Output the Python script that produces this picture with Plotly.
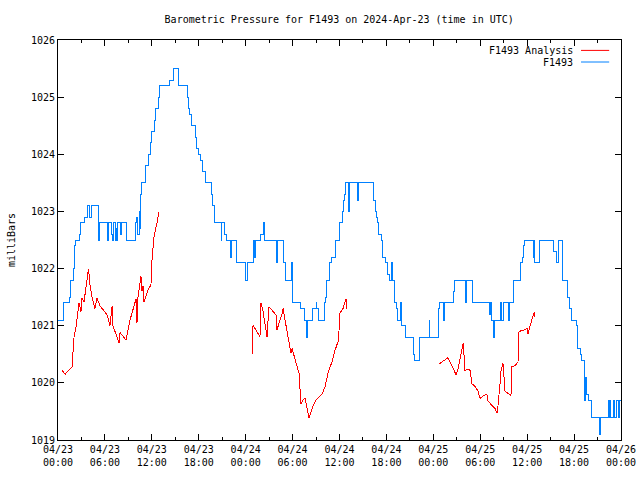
import plotly.graph_objects as go
import pandas as pd

BASE = pd.Timestamp("2024-04-23 00:00")

# Observed station pressure (step series): hours since 2024-04-23 00:00 UTC, mb
obs_hours = [0.00, 0.64, 1.41, 1.66, 1.92, 2.17, 2.30, 2.81, 2.94, 3.33, 3.71, 4.09, 4.22,
             5.12, 5.24, 5.37, 6.39, 6.52, 6.78, 7.03, 7.16, 7.29, 7.42, 7.55, 7.67, 7.93,
             8.06, 8.82, 9.85, 10.10, 10.23, 10.36, 10.49, 10.61, 10.74, 11.25, 11.51,
             11.77, 12.02, 12.28, 12.53, 12.79, 13.04, 14.32, 14.71, 15.35, 15.47, 16.50,
             16.63, 16.88, 17.01, 17.52, 17.65, 18.03, 18.16, 18.54, 18.80, 19.57, 19.70,
             19.95, 20.85, 20.97, 21.23, 21.49, 22.12, 22.25, 22.89, 23.92, 24.17, 24.94,
             25.07, 25.20, 25.96, 26.22, 26.47, 27.88, 28.01, 28.78, 28.90, 29.03, 29.80,
             29.93, 30.95, 31.46, 31.72, 31.97, 32.61, 33.00, 33.12, 33.25, 34.02, 34.27,
             34.40, 34.66, 35.04, 35.43, 36.06, 36.32, 36.45, 36.70, 36.83, 37.09, 37.22,
             38.24, 38.49, 40.41, 40.54, 40.67, 40.80, 41.05, 41.31, 41.56, 41.82, 42.08,
             42.33, 42.59, 42.84, 42.97, 43.35, 43.48, 43.74, 43.87, 44.38, 45.40, 45.53,
             46.17, 47.45, 47.57, 48.60, 48.85, 49.24, 49.37, 50.52, 50.77, 52.05, 52.18,
             52.95, 55.12, 55.25, 55.50, 55.63, 55.76, 56.53, 56.78, 56.91, 57.55, 57.68,
             58.19, 59.09, 59.34, 59.47, 59.72, 60.75, 60.88, 61.00, 61.52, 63.43, 63.69,
             63.95, 64.07, 64.46, 64.58, 65.22, 65.35, 65.61, 66.37, 66.50, 66.76, 67.01,
             67.27, 67.40, 67.53, 67.78, 68.29, 69.19, 69.32, 70.34, 70.47, 70.60, 70.72,
             70.98, 71.11, 71.36, 71.62, 71.75, 72.00]
obs_mbar = [1021.1, 1021.4, 1021.5, 1021.8, 1022.0, 1022.4, 1022.5, 1022.6, 1022.8, 1022.9, 1023.1, 1022.9, 1023.1,
            1022.6, 1022.5, 1022.8, 1022.5, 1022.8, 1022.6, 1022.5, 1022.8, 1022.5, 1022.7, 1022.5, 1022.8, 1022.6,
            1022.8, 1022.5, 1022.8, 1022.9, 1022.6, 1023.0, 1022.7, 1023.3, 1023.5, 1023.8, 1024.0,
            1024.2, 1024.4, 1024.6, 1024.8, 1025.0, 1025.2, 1025.3, 1025.5, 1025.3, 1025.2, 1025.0,
            1024.8, 1024.7, 1024.5, 1024.3, 1024.1, 1024.0, 1023.9, 1023.7, 1023.5, 1023.3, 1023.1,
            1022.8, 1022.5, 1022.8, 1022.6, 1022.5, 1022.2, 1022.5, 1022.1, 1021.8, 1022.1, 1022.5,
            1022.2, 1022.5, 1022.6, 1022.8, 1022.5, 1022.1, 1022.5, 1022.3, 1022.1, 1021.8, 1022.1,
            1021.4, 1021.3, 1021.1, 1020.8, 1021.1, 1021.3, 1021.4, 1021.3, 1021.1, 1021.4, 1021.5,
            1021.8, 1022.1, 1022.2, 1022.5, 1022.8, 1023.0, 1023.2, 1023.3, 1023.5, 1023.0, 1023.5,
            1023.2, 1023.5, 1023.2, 1023.0, 1022.9, 1022.8, 1022.6, 1022.5, 1022.2, 1022.1, 1021.9,
            1021.8, 1022.1, 1021.8, 1021.4, 1021.3, 1021.1, 1021.4, 1021.0, 1020.8, 1020.5, 1020.4,
            1020.8, 1021.1, 1020.8, 1021.3, 1021.4, 1021.1, 1021.4, 1021.6, 1021.8, 1021.4, 1021.8,
            1021.4, 1021.2, 1021.4, 1021.1, 1020.8, 1021.1, 1021.4, 1021.1, 1021.4, 1021.1, 1021.4,
            1021.8, 1022.1, 1022.2, 1022.4, 1022.5, 1022.2, 1022.5, 1022.1, 1022.5, 1022.3, 1022.1,
            1022.3, 1022.5, 1022.0, 1021.8, 1021.5, 1021.3, 1021.1, 1021.0, 1020.6, 1020.5, 1020.4,
            1019.7, 1020.1, 1019.8, 1019.7, 1019.4, 1019.1, 1019.4, 1019.7, 1019.4, 1019.7, 1019.4,
            1019.7, 1019.4, 1019.7, 1019.4, 1019.7, 1019.5]

# Analysis pressure: three separate segments (hours, mb)
ana1_hours = [0.51, 0.90, 1.79, 1.92, 2.05, 2.30, 2.56, 2.69, 2.94, 3.07, 3.33, 3.58, 3.84, 3.90,
              4.09, 4.35, 4.73, 4.99, 5.37, 5.88, 6.27, 6.65, 6.91, 7.03, 7.55, 7.80, 7.93, 8.70,
              9.21, 9.59, 9.98, 10.10, 10.23, 10.61, 10.74, 10.87, 11.00, 11.51, 11.89, 12.02,
              12.28, 12.66, 12.92]
ana1_mbar = [1020.22, 1020.15, 1020.28, 1020.53, 1020.80, 1020.98, 1021.22, 1021.40, 1021.25, 1021.48,
             1021.42, 1021.71, 1021.97, 1022.00, 1021.72, 1021.50, 1021.30, 1021.48, 1021.35, 1021.25,
             1021.19, 1021.00, 1021.34, 1021.00, 1020.78, 1020.70, 1020.88, 1020.75, 1021.10, 1021.30,
             1021.47, 1021.05, 1021.50, 1021.87, 1021.60, 1021.70, 1021.42, 1021.62, 1021.72, 1022.15,
             1022.56, 1022.80, 1023.00]
ana2_hours = [24.81, 24.94, 25.32, 25.83, 25.96, 26.22, 26.73, 26.98, 27.50, 27.88, 28.01, 28.26,
              28.65, 28.78, 28.90, 29.29, 29.54, 29.80, 29.93, 30.31, 30.57, 30.82, 31.08, 31.33,
              31.59, 32.10, 32.61, 33.00, 33.76, 34.15, 34.53, 35.04, 35.43, 35.81, 35.94, 36.06,
              36.45, 36.83, 36.96]
ana2_mbar = [1020.49, 1021.01, 1020.92, 1020.81, 1021.40, 1021.25, 1020.81, 1021.33, 1021.25, 1021.19,
             1020.92, 1021.05, 1021.20, 1021.30, 1021.20, 1020.87, 1020.70, 1020.52, 1020.60, 1020.40,
             1020.30, 1020.17, 1019.63, 1019.70, 1019.73, 1019.38, 1019.60, 1019.70, 1019.80, 1019.93,
             1020.17, 1020.37, 1020.57, 1020.72, 1020.92, 1021.22, 1021.30, 1021.47, 1021.29]
ana3_hours = [48.73, 49.88, 50.39, 50.90, 51.16, 51.54, 51.80, 51.92, 52.05, 52.44, 52.69, 52.95,
              53.33, 53.71, 53.97, 54.48, 54.86, 54.99, 55.50, 55.89, 56.14, 56.27, 56.53, 56.65,
              56.91, 57.04, 57.17, 57.42, 57.93, 58.06, 58.45, 58.83, 58.96, 59.72, 59.98, 60.10,
              60.36, 60.62, 60.88, 61.00]
ana3_mbar = [1020.33, 1020.44, 1020.30, 1020.14, 1020.25, 1020.49, 1020.69, 1020.49, 1020.22, 1020.24,
             1020.22, 1019.98, 1019.94, 1019.86, 1019.73, 1019.78, 1019.80, 1019.68, 1019.61, 1019.55,
             1019.47, 1019.60, 1019.99, 1020.20, 1020.34, 1020.10, 1019.85, 1019.83, 1019.78, 1020.28,
             1020.30, 1020.37, 1020.90, 1020.93, 1020.96, 1020.85, 1021.00, 1021.12, 1021.23, 1021.15]

TITLE = "Barometric Pressure for F1493 on 2024-Apr-23 (time in UTC)"
Y_TITLE = "milliBars"
LEGEND_ANALYSIS = "F1493 Analysis"
LEGEND_OBS = "F1493"
RED = "#ff0000"
BLUE = "#0080ff"
FONT = "DejaVu Sans Mono"


def to_times(hours):
    return list(BASE + pd.to_timedelta(hours, unit="h"))


ana_x, ana_y = [], []
for hs, vs in [(ana1_hours, ana1_mbar), (ana2_hours, ana2_mbar), (ana3_hours, ana3_mbar)]:
    ana_x += to_times(hs) + [None]
    ana_y += vs + [None]

fig = go.Figure()
fig.add_trace(go.Scatter(x=ana_x, y=ana_y, mode="lines", name=LEGEND_ANALYSIS,
                         line=dict(color=RED, width=1), connectgaps=False))
fig.add_trace(go.Scatter(x=to_times(obs_hours), y=obs_mbar, mode="lines", name=LEGEND_OBS,
                         line=dict(color=BLUE, width=1, shape="hv")))

fig.update_layout(
    width=640, height=480,
    margin=dict(l=58, r=19, t=40, b=40, autoexpand=False),
    paper_bgcolor="white", plot_bgcolor="white",
    showlegend=False,
    font=dict(family=FONT, size=10, color="black"),
    title=dict(text=TITLE, x=0.53, xanchor="center", y=0.96, yanchor="middle",
               font=dict(family=FONT, size=10, color="black")),
)
fig.update_xaxes(
    type="date",
    range=[BASE, BASE + pd.Timedelta(hours=72)],
    dtick=6 * 3600 * 1000, tick0=BASE,
    tickformat="%m/%d<br>%H:%M",
    ticks="inside", ticklen=6, tickcolor="black",
    minor=dict(dtick=3 * 3600 * 1000, ticks="inside", ticklen=3, tickcolor="black", showgrid=False),
    showline=True, linecolor="black", linewidth=1, mirror="allticks",
    showgrid=False, zeroline=False, automargin=False,
    tickfont=dict(family=FONT, size=10, color="black"),
)
fig.update_yaxes(
    range=[1019, 1026], dtick=1, tick0=1019,
    ticks="inside", ticklen=6, tickcolor="black",
    showline=True, linecolor="black", linewidth=1, mirror="allticks",
    showgrid=False, zeroline=False, automargin=False,
    tickformat="d",
    title=dict(text=Y_TITLE, font=dict(family=FONT, size=10, color="black"), standoff=13),
    tickfont=dict(family=FONT, size=10, color="black"),
)

# legend drawn gnuplot-style: right-aligned text followed by line sample
for label, color, ypos in [(LEGEND_ANALYSIS, RED, 0.974), (LEGEND_OBS, BLUE, 0.945)]:
    fig.add_annotation(xref="paper", yref="paper", x=0.919, y=ypos, text=label,
                       showarrow=False, xanchor="right", yanchor="middle",
                       font=dict(family=FONT, size=10, color="black"))
    fig.add_shape(type="line", xref="paper", yref="paper", x0=0.929, x1=0.979,
                  y0=ypos, y1=ypos, line=dict(color=color, width=1))

fig.write_html("out.html", config={"displayModeBar": False, "staticPlot": True})

# remove the browser's default page margin; render lines crisp like a bitmap plot
with open("out.html", "r", encoding="utf-8") as f:
    html = f.read()
style = ("<style>html,body{margin:0;padding:0;overflow:hidden;}"
         "path.js-line{shape-rendering:crispEdges;}</style>")
html = html.replace("<head>", "<head>" + style, 1)
with open("out.html", "w", encoding="utf-8") as f:
    f.write(html)
